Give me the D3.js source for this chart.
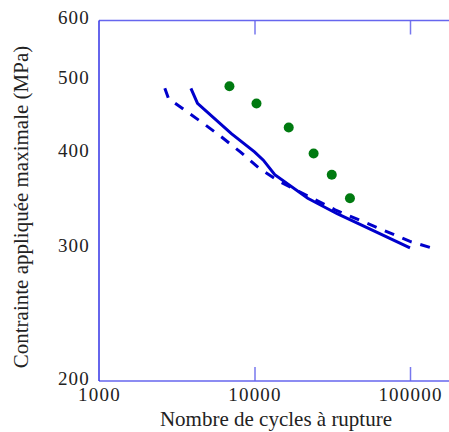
<!DOCTYPE html>
<html><head><meta charset="utf-8">
<script src="https://cdn.jsdelivr.net/npm/d3@7"></script>
<style>
body{margin:0;background:#fff;}
svg{display:block;}
text{font-family:"Liberation Serif","Times New Roman",serif;fill:#222;}
</style></head>
<body>
<svg id="c" width="449" height="432"></svg>
<script>
// data
const solidN = [3900, 4300, 7100, 10000, 11400, 13500, 22000, 34000, 55000, 100000];
const solidS = [488, 466, 425, 402, 392, 375, 349, 333, 318, 300];
const dashN = [2650, 2800, 4650, 6200, 8100, 10800, 14600, 33000, 100000, 138000];
const dashS = [488, 473, 439, 420, 402, 382, 367, 337, 306, 300];
const dotN = [6900, 10300, 16600, 24000, 31400, 41100];
const dotS = [491, 466, 433, 400, 375, 349];
const xTicks = [1000, 10000, 100000];
const yTicks = [200, 300, 400, 500, 600];
const xTitle = "Nombre de cycles à rupture";
const yTitle = "Contrainte appliquée maximale (MPa)";

const svg = d3.select("#c");
const x = d3.scaleLog().domain([1000, 100000]).range([99, 410]);
const y = d3.scaleLog().domain([200, 600]).range([381, 20.5]);
const xEnd = 460;

// axes
const gb = svg.append("g").attr("transform", "translate(0,381)")
  .call(d3.axisBottom(x).tickValues(xTicks).tickFormat(d3.format("d")).tickSizeInner(-14).tickSizeOuter(0).tickPadding(7));
gb.select(".domain").remove();
gb.selectAll(".tick line").attr("stroke", "#7777ee").attr("stroke-width", 1.5);
gb.selectAll(".tick").filter(d => d === 1000).select("line").remove();
gb.selectAll("text").attr("font-size", 19).attr("font-family", "Liberation Serif").attr("fill", "#222").attr("letter-spacing", "1.2px");

const gt = svg.append("g").attr("transform", "translate(0,20.5)")
  .call(d3.axisTop(x).tickValues(xTicks).tickFormat("").tickSizeInner(-14).tickSizeOuter(0));
gt.select(".domain").remove();
gt.selectAll(".tick line").attr("stroke", "#7777ee").attr("stroke-width", 1.5);
gt.selectAll(".tick").filter(d => d === 1000).select("line").remove();

const gl = svg.append("g").attr("transform", "translate(99,0)")
  .call(d3.axisLeft(y).tickValues(yTicks).tickFormat(d3.format("d")).tickSize(0).tickPadding(9));
gl.select(".domain").remove();
gl.selectAll("text").attr("font-size", 19).attr("font-family", "Liberation Serif").attr("fill", "#222").attr("dy", "0.18em").attr("letter-spacing", "1.2px");

// frame lines
svg.append("line").attr("x1", 99).attr("x2", xEnd).attr("y1", 20.5).attr("y2", 20.5).attr("stroke", "#6666ee").attr("stroke-width", 1.5);
svg.append("line").attr("x1", 99).attr("x2", xEnd).attr("y1", 381).attr("y2", 381).attr("stroke", "#6666ee").attr("stroke-width", 1.5);
svg.append("line").attr("x1", 99).attr("x2", 99).attr("y1", 20.5).attr("y2", 381).attr("stroke", "#3333e6").attr("stroke-width", 1.5);

// titles
svg.append("text").attr("x", 276).attr("y", 426).attr("text-anchor", "middle").attr("font-size", 21).text(xTitle);
svg.append("text").attr("transform", "translate(28,207) rotate(-90)").attr("text-anchor", "middle").attr("font-size", 21).text(yTitle);

// series
const line = d3.line().x(d => x(d[0])).y(d => y(d[1]));
const solid = solidN.map((n, i) => [n, solidS[i]]);
const dashed = dashN.map((n, i) => [n, dashS[i]]);
svg.append("path").datum(dashed).attr("d", line).attr("fill", "none").attr("stroke", "#0000cc").attr("stroke-width", 3).attr("stroke-dasharray", "10,9");
svg.append("path").datum(solid).attr("d", line).attr("fill", "none").attr("stroke", "#0000cc").attr("stroke-width", 3);
svg.selectAll("circle.d").data(dotN.map((n, i) => [n, dotS[i]])).enter().append("circle")
  .attr("cx", d => x(d[0])).attr("cy", d => y(d[1])).attr("r", 5).attr("fill", "#007a10");
</script>
</body></html>
